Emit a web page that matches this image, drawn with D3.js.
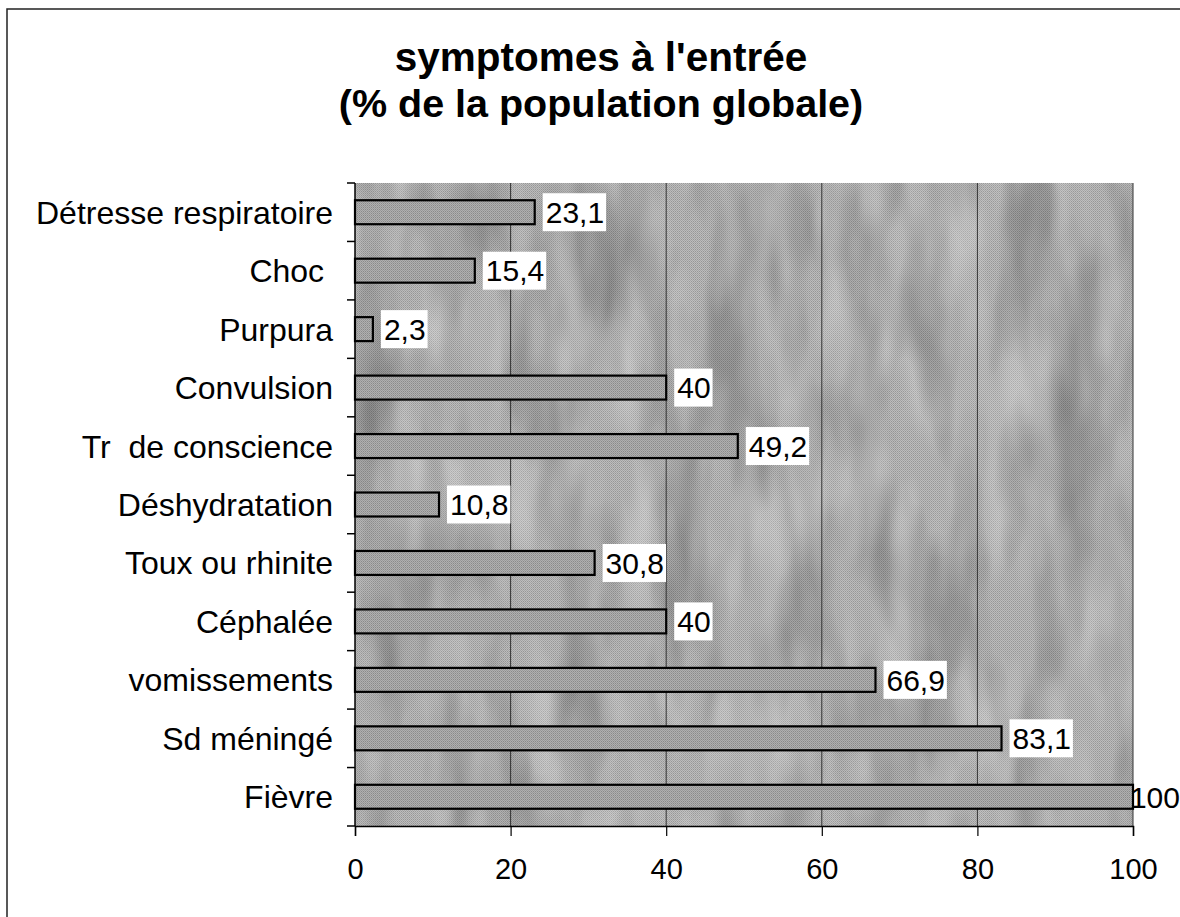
<!DOCTYPE html>
<html>
<head>
<meta charset="utf-8">
<script src="https://cdnjs.cloudflare.com/ajax/libs/d3/7.8.5/d3.min.js"></script>
<style type="text/css">
body { margin: 0; background: #fff; }
text { font-family: "Liberation Sans", Arial, sans-serif; fill: #000; }
.title { font-size: 40px; font-weight: bold; }
.cat { font-size: 32px; white-space: pre; }
.tick text { font-size: 29px; }
.bar { stroke: #000; stroke-width: 2.2; }
.grid line { stroke: #333; stroke-width: 1; }
</style>
</head>
<body>
<script>
// categories top to bottom
var categories = ["Détresse respiratoire", "Choc ", "Purpura", "Convulsion", "Tr  de conscience",
  "Déshydratation", "Toux ou rhinite", "Céphalée", "vomissements", "Sd méningé", "Fièvre"];
var values = [23.1, 15.4, 2.3, 40, 49.2, 10.8, 30.8, 40, 66.9, 83.1, 100];
var xTicks = [0, 20, 40, 60, 80, 100];
var titleLines = ["symptomes à l'entrée", "(% de la population globale)"];

var W = 1180, H = 917;
var margin = {top: 183, right: 47, bottom: 91, left: 355};
var width = W - margin.left - margin.right,
    height = H - margin.top - margin.bottom;

var svg = d3.select("body").append("svg")
    .attr("width", W)
    .attr("height", H);

var defs = svg.append("defs");

// dithered grey background, like an old scanned print
var pat = defs.append("pattern")
    .attr("id", "dither")
    .attr("width", 2).attr("height", 2)
    .attr("patternUnits", "userSpaceOnUse");
pat.append("rect").attr("width", 2).attr("height", 2).attr("fill", "#bdbdbd");
pat.append("rect").attr("width", 1).attr("height", 1).attr("fill", "#969696");
pat.append("rect").attr("x", 1).attr("y", 1).attr("width", 1).attr("height", 1).attr("fill", "#a4a4a4");

var barPat = defs.append("pattern")
    .attr("id", "dither2")
    .attr("width", 2).attr("height", 2)
    .attr("patternUnits", "userSpaceOnUse");
barPat.append("rect").attr("width", 2).attr("height", 2).attr("fill", "#b0b0b0");
barPat.append("rect").attr("width", 1).attr("height", 1).attr("fill", "#8a8a8a");
barPat.append("rect").attr("x", 1).attr("y", 1).attr("width", 1).attr("height", 1).attr("fill", "#9a9a9a");

var filt = defs.append("filter").attr("id", "marble")
    .attr("x", 0).attr("y", 0).attr("width", 1).attr("height", 1);
filt.append("feTurbulence")
    .attr("type", "fractalNoise")
    .attr("baseFrequency", "0.02 0.006")
    .attr("numOctaves", 3)
    .attr("seed", 3)
    .attr("result", "noise");
filt.append("feColorMatrix")
    .attr("in", "noise")
    .attr("type", "matrix")
    .attr("values", "0 0 0 0 0  0 0 0 0 0  0 0 0 0 0  0 0 0 1.2 -0.5")
    .attr("result", "shade");
filt.append("feComposite").attr("in", "shade").attr("in2", "SourceGraphic").attr("operator", "in");

var filtL = defs.append("filter").attr("id", "marbleLight")
    .attr("x", 0).attr("y", 0).attr("width", 1).attr("height", 1);
filtL.append("feTurbulence")
    .attr("type", "fractalNoise")
    .attr("baseFrequency", "0.03 0.008")
    .attr("numOctaves", 2)
    .attr("seed", 11)
    .attr("result", "noise");
filtL.append("feColorMatrix")
    .attr("in", "noise")
    .attr("type", "matrix")
    .attr("values", "0 0 0 0 1  0 0 0 0 1  0 0 0 0 1  0 0 0 1.2 -0.5")
    .attr("result", "shade");
filtL.append("feComposite").attr("in", "shade").attr("in2", "SourceGraphic").attr("operator", "in");

// outer frame
svg.append("rect")
    .attr("x", 7).attr("y", 9)
    .attr("width", W + 10).attr("height", H + 10)
    .attr("fill", "none")
    .attr("stroke", "#222")
    .attr("stroke-width", 1.5);

// title
svg.selectAll(".title")
    .data(titleLines)
  .enter().append("text")
    .attr("class", "title")
    .attr("x", 601)
    .attr("y", function(d, i) { return 71 + i * 46; })
    .attr("text-anchor", "middle")
    .style("font-size", function(d, i) { return i ? "39.5px" : "40.5px"; })
    .text(function(d) { return d; });

var g = svg.append("g")
    .attr("transform", "translate(" + margin.left + "," + margin.top + ")");

var x = d3.scaleLinear().domain([0, 100]).range([0, width]);
var y = d3.scaleBand().domain(categories).range([0, height]).paddingInner(0.59).paddingOuter(0.295);
var yb = d3.scaleBand().domain(categories).range([0, height]);

// plot background
g.append("rect")
    .attr("width", width).attr("height", height)
    .attr("fill", "url(#dither)");
g.append("rect")
    .attr("width", width).attr("height", height)
    .attr("fill", "#fff")
    .attr("filter", "url(#marble)")
    .attr("opacity", 0.45);
g.append("rect")
    .attr("width", width).attr("height", height)
    .attr("fill", "#fff")
    .attr("filter", "url(#marbleLight)")
    .attr("opacity", 0.5);

// vertical gridlines
g.append("g")
    .attr("class", "grid")
    .selectAll("line")
    .data(xTicks.slice(1))
  .enter().append("line")
    .attr("x1", function(d) { return x(d); })
    .attr("x2", function(d) { return x(d); })
    .attr("y1", 0).attr("y2", height);

// bars
g.selectAll(".bar")
    .data(values)
  .enter().append("rect")
    .attr("class", "bar")
    .attr("x", 0)
    .attr("y", function(d, i) { return y(categories[i]); })
    .attr("width", function(d) { return x(d); })
    .attr("height", y.bandwidth())
    .attr("fill", "url(#dither2)");

// value labels with white boxes (pushed back left if they run off the page)
var lab = g.selectAll(".lab")
    .data(values)
  .enter().append("g")
    .attr("class", "lab")
    .attr("transform", function(d, i) {
      return "translate(" + (x(d) + 1) + "," + (y(categories[i]) + y.bandwidth() / 2) + ")";
    });
lab.append("text")
    .attr("x", 10)
    .attr("dy", "0.36em")
    .style("font-size", "30px")
    .text(function(d) { return String(d).replace(".", ","); })
    .each(function(d) {
      var b = this.getBBox();
      var over = margin.left + x(d) + 1 + b.x + b.width - W;
      if (over > 0) {
        d3.select(this).attr("x", 10 - over);
        b = this.getBBox();
      }
      d3.select(this.parentNode).insert("rect", "text")
        .attr("x", b.x - 3).attr("y", -19)
        .attr("width", b.width + 5).attr("height", 38)
        .attr("fill", "#fff")
        .attr("opacity", over > 0 ? 0 : 1);
    });

// y axis: line + ticks at band boundaries
g.append("line")
    .attr("x1", 0).attr("x2", 0).attr("y1", 0).attr("y2", height)
    .attr("stroke", "#000").attr("stroke-width", 1.5);
g.selectAll(".ytick")
    .data(d3.range(categories.length + 1))
  .enter().append("line")
    .attr("class", "ytick")
    .attr("x1", -8).attr("x2", 0)
    .attr("y1", function(i) { return i * yb.bandwidth(); })
    .attr("y2", function(i) { return i * yb.bandwidth(); })
    .attr("stroke", "#000").attr("stroke-width", 1.5);

g.selectAll(".cat")
    .data(categories)
  .enter().append("text")
    .attr("class", "cat")
    .attr("x", -22)
    .attr("y", function(d) { return yb(d) + yb.bandwidth() / 2; })
    .attr("dy", "0.36em")
    .attr("text-anchor", "end")
    .text(function(d) { return d; });

// x axis
var xAxis = g.append("g")
    .attr("transform", "translate(0," + height + ")")
    .call(d3.axisBottom(x).tickValues(xTicks).tickSize(10).tickPadding(22).tickFormat(d3.format("d")));
xAxis.select(".domain").attr("stroke", "#000").attr("stroke-width", 1.5);
xAxis.selectAll(".tick line").attr("stroke", "#000").attr("stroke-width", 1.2);
xAxis.selectAll(".tick text").attr("font-family", null).attr("font-size", null);
</script>
</body>
</html>
